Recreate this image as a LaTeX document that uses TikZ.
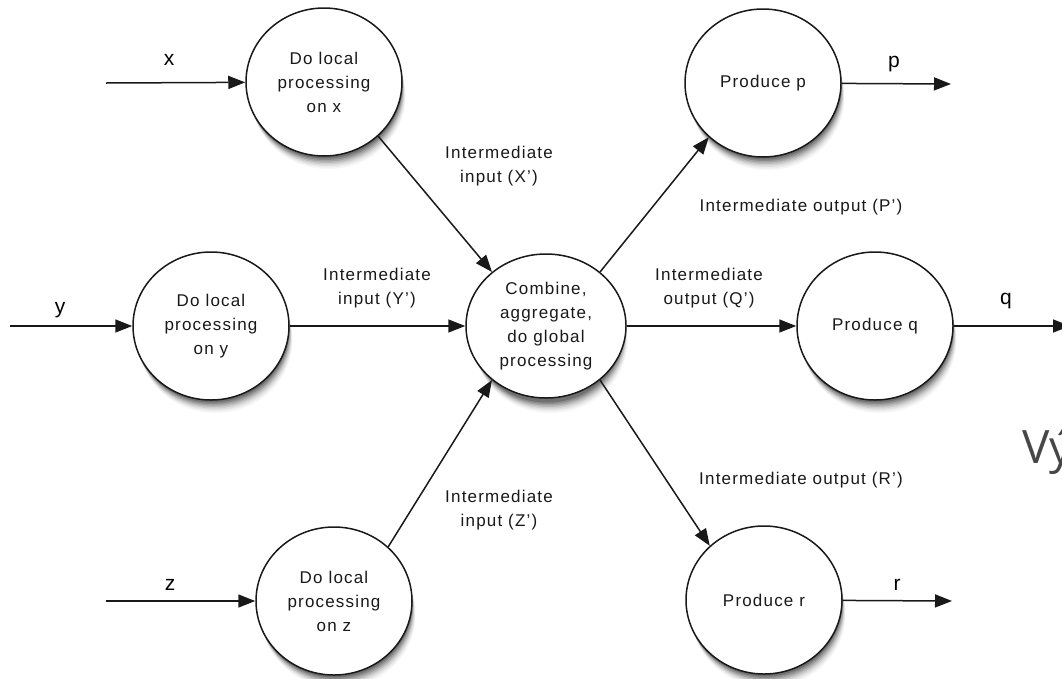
\documentclass[tikz,border=0pt]{standalone}
\usepackage{fontspec}
\setmainfont{Liberation Sans}
\newfontfamily\vyfont{Open Sans}
\usetikzlibrary{arrows.meta,shapes.geometric}
\newcommand\lblfont{\fontsize{17}{24}\selectfont\addfontfeature{LetterSpace=7}}
\newcommand\letfont{\fontsize{21}{24}\selectfont}
\newcommand\softshade[2]{%
  \fill[black!3]  (#1,#2) ++(4.5,14) circle [x radius=77pt, y radius=73pt];
  \fill[black!7]  (#1,#2) ++(4,12.5) circle [x radius=77pt, y radius=73pt];
  \fill[black!12] (#1,#2) ++(3.5,11) circle [x radius=77pt, y radius=73pt];
  \fill[black!19] (#1,#2) ++(3,9.5) circle [x radius=77pt, y radius=73pt];
  \fill[black!27] (#1,#2) ++(2.5,8) circle [x radius=77pt, y radius=73pt];
  \fill[black!36] (#1,#2) ++(2,6.5) circle [x radius=77pt, y radius=73pt];
  \fill[black!46] (#1,#2) ++(1.5,5) circle [x radius=77pt, y radius=73pt];
  \fill[black!56] (#1,#2) ++(1,3.5) circle [x radius=77pt, y radius=73pt];
}
\begin{document}
\begin{tikzpicture}[x=1pt,y=-1pt,
  proc/.style={ellipse, draw=black!90, line width=1.5pt, fill=white,
    minimum width=156pt, minimum height=148pt, inner sep=0pt,
    align=center, font=\lblfont, text=black!90},
  lbl/.style={align=center, font=\lblfont, text=black!90, inner sep=0pt},
  letter/.style={font=\letfont, text=black, anchor=base, inner sep=0pt},
  arr/.style={line width=1.5pt, draw=black!90, -{Triangle[length=17pt,width=13pt]}}]
\fill[white] (0,0) rectangle (1062,678);
\clip (0,0) rectangle (1062,678);

% soft shadows under the circles
\softshade{324}{82}
\softshade{211}{326}
\softshade{334}{601}
\softshade{546}{326}
\softshade{763}{83}
\softshade{875}{326}
\softshade{764}{600}

% processing nodes
\node[proc] (px) at (324,82) {Do local\\processing\\on x};
\node[proc] (py) at (211,326) {Do local\\processing\\on y};
\node[proc] (pz) at (334,601) {Do local\\processing\\on z};
\node[proc, minimum width=160pt, minimum height=144pt] (c) at (546,326) {Combine,\\aggregate,\\do global\\processing};
\node[proc] (pp) at (763,83) {Produce p};
\node[proc] (pq) at (875,326) {Produce q};
\node[proc] (pr) at (764,600) {Produce r};

% free ends
\coordinate (inx) at (106,83);
\coordinate (iny) at (10,326);
\coordinate (inz) at (106,601);
\coordinate (outp) at (951,84);
\coordinate (outq) at (1070,326);
\coordinate (outr) at (952,601);

% input/output arrows
\draw[arr] (inx) -- (px);
\draw[arr] (iny) -- (py);
\draw[arr] (inz) -- (pz);
\draw[arr] (pp) -- (outp);
\draw[arr] (pq) -- (outq);
\draw[arr] (pr) -- (outr);

% internal arrows
\draw[arr] (px.-45) -- (c.135);
\draw[arr] (py) -- (c);
\draw[arr] (pz.45) -- (c.-135);
\draw[arr] (c.45) -- (pp.-135);
\draw[arr] (c) -- (pq);
\draw[arr] (c.-45) -- (pr.135);

% letter labels
\node[letter] (lx) at (169,65) {x};
\node[letter] (ly) at (60,313) {y};
\node[letter] (lz) at (170,590) {z};
\node[letter] (lp) at (894,67) {p};
\node[letter] (lq) at (1006,304) {q};
\node[letter] (lr) at (897,590) {r};

% edge labels
\node[lbl] (tx) at (499,166) {Intermediate\\input (X')};
\node[lbl] (ty) at (377,288) {Intermediate\\input (Y')};
\node[lbl] (tz) at (499,510) {Intermediate\\input (Z')};
\node[lbl] (tp) at (801,207) {Intermediate output (P')};
\node[lbl] (tq) at (709,288) {Intermediate\\output (Q')};
\node[lbl] (tr) at (801,480) {Intermediate output (R')};

% text cut at the right edge, as in the reference
\node[anchor=base west, inner sep=0pt, font=\vyfont\fontsize{46}{50}\selectfont, text=black!72] (vy) at (1022,463) {Vý};
\end{tikzpicture}
\end{document}
